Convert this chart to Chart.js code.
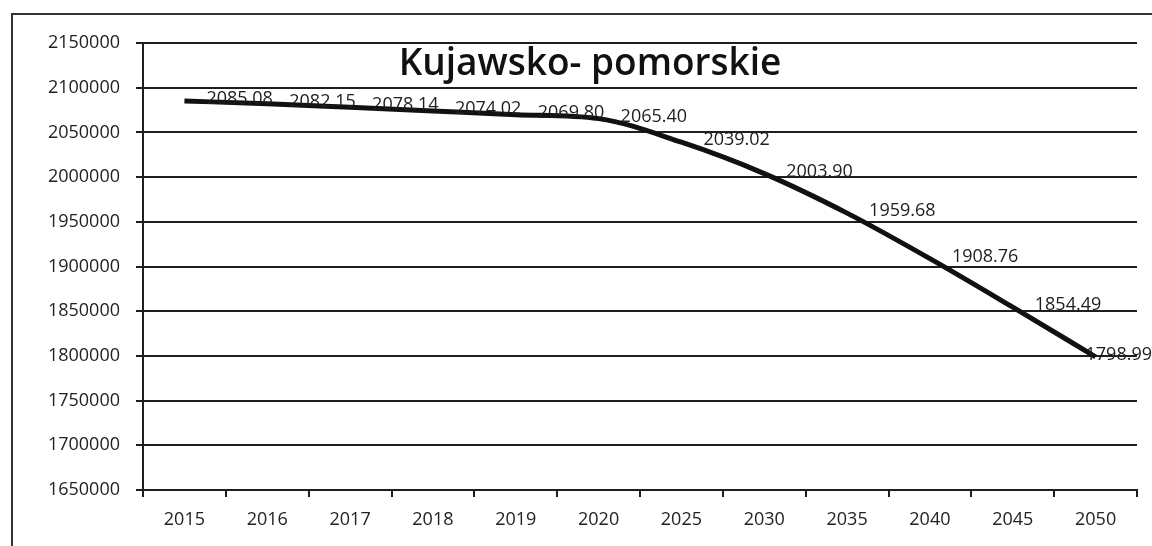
<!DOCTYPE html>
<html>
<head>
<meta charset="utf-8">
<script src="https://cdn.jsdelivr.net/npm/chart.js@4/dist/chart.umd.min.js"></script>
<style>
  html, body { margin: 0; padding: 0; background: #fff; }
  #wrap { width: 1152px; height: 546px; }
</style>
</head>
<body>
<div id="wrap"><canvas id="chart"></canvas></div>
<script>
// data (population, persons)
const years = ['2015', '2016', '2017', '2018', '2019', '2020', '2025', '2030', '2035', '2040', '2045', '2050']
const population = [2085080, 2082150, 2078140, 2074020, 2069800, 2065400, 2039020, 2003900, 1959680, 1908760, 1854490, 1798990]
const titleText = 'Kujawsko- pomorskie'

const ink = '#1e1e1e'
const font = "'Open Sans', 'DejaVu Sans', sans-serif"

// white page with the scanned frame on the left and top
const frame = {
  id: 'frame',
  beforeDraw (chart) {
    const ctx = chart.ctx
    ctx.save()
    ctx.fillStyle = '#fff'
    ctx.fillRect(0, 0, chart.width, chart.height)
    ctx.strokeStyle = '#333'
    ctx.lineWidth = 2
    ctx.beginPath()
    ctx.moveTo(12, chart.height)
    ctx.lineTo(12, 14)
    ctx.lineTo(chart.width, 14)
    ctx.stroke()
    ctx.restore()
  }
}

// value labels to the right of each point, in thousands
const valueLabels = {
  id: 'valueLabels',
  afterDatasetsDraw (chart) {
    const ctx = chart.ctx
    const points = chart.getDatasetMeta(0).data
    ctx.save()
    ctx.font = `18px ${font}`
    ctx.fillStyle = ink
    ctx.textBaseline = 'middle'
    ctx.textAlign = 'left'
    points.forEach((pt, i) => {
      const text = (population[i] / 1000).toFixed(2)
      const w = ctx.measureText(text).width
      const x = Math.min(pt.x + 22, chart.width - w)
      ctx.fillText(text, x, pt.y - 2)
    })
    ctx.restore()
  }
}

// title sits inside the plot area
const innerTitle = {
  id: 'innerTitle',
  afterDraw (chart) {
    const ctx = chart.ctx
    ctx.save()
    ctx.font = `600 37px ${font}`
    ctx.fillStyle = '#111'
    ctx.textAlign = 'center'
    ctx.textBaseline = 'middle'
    ctx.fillText(titleText, 590, 64)
    ctx.restore()
  }
}

const chart = new Chart(document.getElementById('chart'), {
  type: 'line',
  data: {
    labels: years,
    datasets: [{
      data: population,
      borderColor: '#111',
      borderWidth: 5,
      pointRadius: 0,
      cubicInterpolationMode: 'monotone',
      fill: false
    }]
  },
  options: {
    responsive: true,
    maintainAspectRatio: false,
    animation: false,
    layout: { padding: { top: 43, right: 15, left: 0, bottom: 0 } },
    plugins: { legend: { display: false }, tooltip: { enabled: false } },
    scales: {
      x: {
        offset: true,
        grid: { offset: true, drawOnChartArea: false, color: ink, lineWidth: 2, tickLength: 7 },
        border: { color: ink, width: 2 },
        ticks: { color: '#222', font: { family: font, size: 18 }, padding: 12, maxRotation: 0 },
        afterFit: (scale) => { scale.height = 56 }
      },
      y: {
        min: 1650000,
        max: 2150000,
        ticks: {
          stepSize: 50000,
          color: '#222',
          font: { family: font, size: 18 },
          padding: 16,
          callback: (value) => String(value)
        },
        grid: { color: ink, lineWidth: 2, tickLength: 7 },
        border: { color: ink, width: 2 },
        afterFit: (scale) => { scale.width = 143 }
      }
    }
  },
  plugins: [frame, valueLabels, innerTitle]
})
</script>
</body>
</html>
